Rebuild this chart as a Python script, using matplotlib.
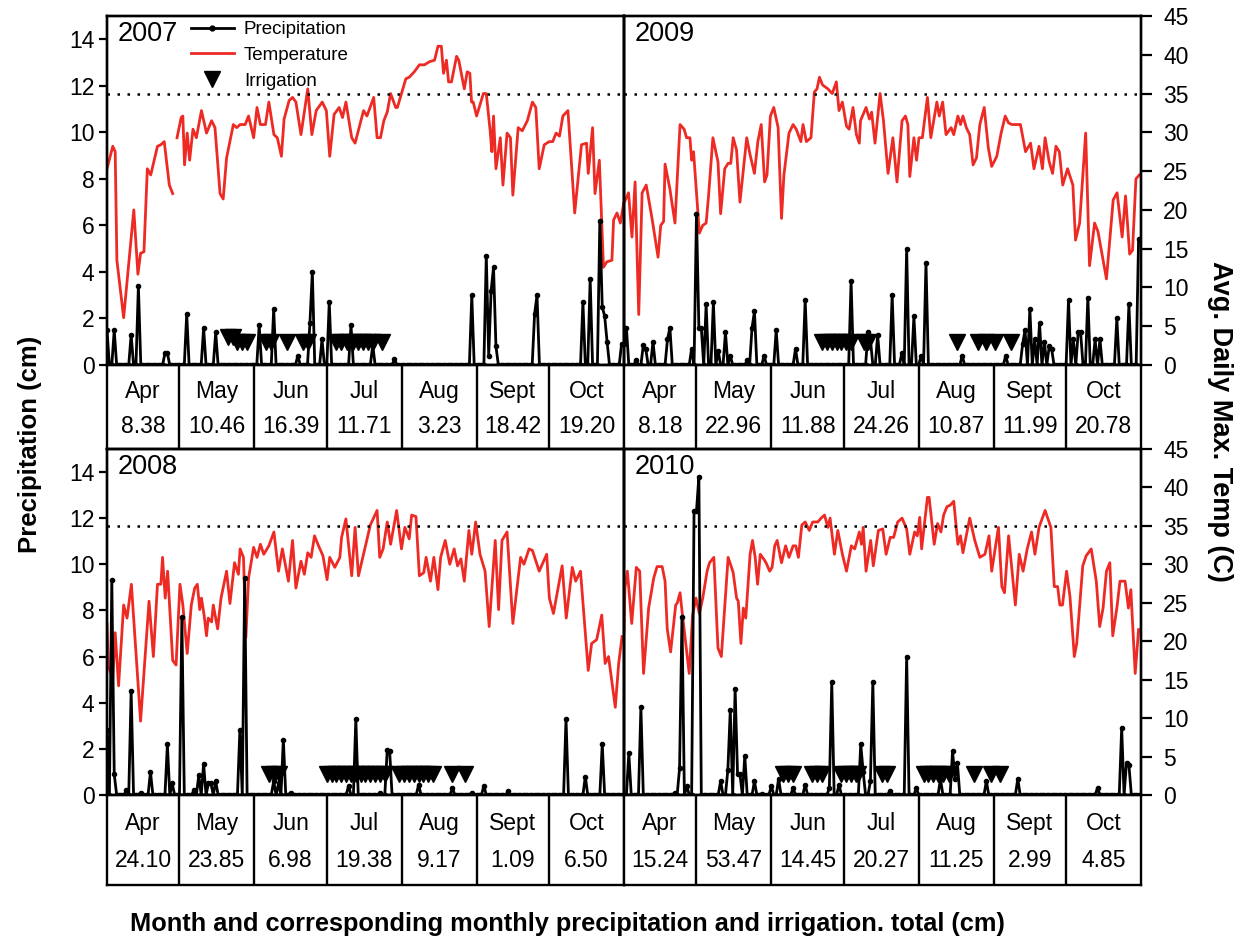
import numpy as np
import matplotlib
matplotlib.use("Agg")
import matplotlib.pyplot as plt
from matplotlib.lines import Line2D

plt.rcParams["font.family"] = ["Liberation Sans", "DejaVu Sans"]

RED = "#ee2a24"
N_DAYS = 214  # Apr 1 .. Oct 31

months = ["Apr", "May", "Jun", "Jul", "Aug", "Sept", "Oct"]
month_days = [30, 31, 30, 31, 31, 30, 31]

totals_2007 = ["8.38", "10.46", "16.39", "11.71", "3.23", "18.42", "19.20"]
totals_2009 = ["8.18", "22.96", "11.88", "24.26", "10.87", "11.99", "20.78"]
totals_2008 = ["24.10", "23.85", "6.98", "19.38", "9.17", "1.09", "6.50"]
totals_2010 = ["15.24", "53.47", "14.45", "20.27", "11.25", "2.99", "4.85"]

# ---- temperature (day since Apr 1, deg C) ----
temp_days_2007 = [0, 2.4, 3.4, 4.1, 6.9, 11.1, 12.8, 13.9, 15.3, 16.7, 18.1, 20.9, 22.3, 23.7, 25.8, 27.2, 28,
                  29, 30.7, 31.4, 32.1, 33.2, 34.2, 35.6, 37, 39.1, 41.2, 43.3, 44.7, 46.8, 48.1, 49.5, 52.3,
                  53.7, 55.1, 57.2, 58.6, 60.7, 62.1, 63.5, 65.6, 67.0, 69.1, 70.5, 72.2, 73.3, 75.4, 76.8,
                  78.2, 80.3, 83.1, 84.8, 86.6, 89.1, 90.8, 92.2, 94.0, 96.1, 97.5, 98.9, 101.3, 102.7, 106.2,
                  107.6, 110.4, 111.8, 113.2, 114.6, 116.0, 117.4, 119.5, 120.2, 123.7, 125.1, 127.2, 129.3,
                  131.4, 133.5, 135.6, 137.0, 138.4, 139.3, 140.5, 141.4, 142.6, 144.7, 145.6, 147.9, 149.1,
                  150.2, 150.9, 151.6, 153.0, 155.8, 157.0, 158.6, 159.3, 160.0, 161.0, 162.8, 163.9, 165.6,
                  167.0, 168.0, 170.2, 171.9, 174.0, 176.1, 177.5, 178.9, 181.0, 183.1, 184.5, 185.9, 187.3,
                  188.7, 190.8, 193.6, 196.4, 198.5, 199.2, 201.0, 202.0, 203.8, 205.5, 206.9, 209.0, 209.7,
                  211.1, 212.5, 213.9]
temp_2007 = [25.3, 28.2, 27.5, 13.5, 6.1, 20.0, 11.7, 14.4, 14.6, 25.3, 24.5, 28.2, 28.4, 28.8, 23.2, 22.1, np.nan,
             29.3, 31.9, 32.1, 25.8, 29.9, 26.4, 30.4, 29.3, 32.8, 29.9, 31.5, 30.6, 22.1, 21.4, 26.7, 31.0,
             30.6, 31.0, 31.0, 32.1, 29.3, 33.2, 31.0, 31.0, 33.9, 29.7, 29.3, 26.9, 31.7, 34.1, 34.5,
             33.9, 29.7, 35.6, 29.7, 32.8, 33.9, 32.8, 26.9, 32.3, 33.2, 31.9, 33.9, 29.3, 28.6, 32.8,
             32.1, 34.5, 29.3, 29.3, 31.5, 32.6, 35.0, 33.2, 33.2, 36.9, 37.1, 37.8, 38.7,
             38.7, 39.1, 39.3, 41.1, 41.1, 37.6, 39.3, 36.5, 36.5, 39.8, 39.3, 35.6, 37.8,
             37.6, 33.9, 33.9, 32.1, 35.0, 35.0, 30.2, 27.5, 32.1, 25.3, 29.3, 23.2, 29.9,
             29.3, 21.9, 30.6, 30.2, 31.5, 33.9, 33.2, 25.3, 28.4, 28.8, 28.8, 29.9, 29.5,
             32.1, 32.8, 19.6, 28.4, 28.6, 24.7, 30.6, 22.1, 26.4, 12.6, 13.3, 13.5, 18.7,
             19.6, 18.3, 20.9]

temp_days_2009 = [0, 1.9, 3.3, 4.6, 6.1, 7.5, 9.2, 11.6, 14.1, 15.2, 16.4, 17.0, 19.0, 21.1, 23.2, 24.9, 25.9,
                  27.3, 28.0, 28.8, 31.2, 32.6, 34.0, 35.0, 36.8, 38.9, 40.0, 41.7, 43.1, 44.2, 45.2, 46.6,
                  48.0, 50.8, 52.2, 54.0, 55.4, 56.8, 58.2, 59.2, 60.6, 62.0, 63.8, 65.2, 66.2, 68.3, 70.0,
                  71.3, 73.2, 74.1, 75.5, 77.4, 78.8, 79.9, 80.9, 82.2, 84.4, 86.2, 87.9, 89.0, 90.4, 92.1,
                  93.2, 94.8, 96.2, 97.4, 97.9, 100.2, 101.6, 102.5, 103.9, 106.0, 107.4, 109.3, 111.3,
                  113.0, 115.1, 116.5, 117.5, 118.3, 120.0, 121.1, 122.1, 123.5, 125.6, 127.0, 129.5, 130.5,
                  131.9, 133.3, 135.4, 136.5, 138.2, 139.3, 140.3, 141.7, 143.1, 144.5, 145.9, 147.3, 149.1,
                  150.8, 152.2, 154.3, 156.1, 157.8, 159.2, 160.6, 164.1, 166.2, 168.3, 169.7, 171.8, 173.2,
                  174.3, 176.0, 177.4, 178.8, 180.2, 181.6, 183.6, 185.8, 186.9, 188.6, 191.1, 192.7, 194.8,
                  196.2, 199.7, 202.5, 204.1, 206.2, 207.6, 209.3, 210.5, 211.9, 213.3]
temp_2009 = [20.9, 22.2, 16.5, 23.6, 6.5, 22.2, 23.2, 18.9, 13.9, 18.0, 18.5, 25.9, 22.7, 18.3, 31.0, 30.4, 29.3,
             29.3, 26.4, 27.5, 17.0, 18.0, 18.3, 21.8, 29.3, 26.2, 19.5, 25.3, 26.0, 26.0, 29.3, 27.7,
             21.0, 29.3, 27.1, 24.7, 28.8, 31.0, 23.6, 24.5, 32.1, 33.2, 30.6, 18.9, 24.5, 29.9, 31.0,
             30.4, 28.8, 31.0, 28.8, 29.3, 35.2, 35.6, 37.1, 36.1, 35.6, 35.0, 36.5, 32.8, 33.9, 30.8,
             30.4, 33.2, 29.7, 28.6, 31.5, 33.2, 31.7, 32.6, 28.6, 35.0, 31.5, 24.7, 29.3,
             23.6, 31.5, 32.1, 31.0, 24.3, 29.3, 26.4, 29.3, 29.3, 34.5, 29.3, 33.9, 32.1,
             33.9, 29.7, 30.6, 29.7, 32.1, 31.0, 32.1, 30.6, 29.7, 25.8, 26.7, 31.0, 33.2,
             28.0, 25.6, 26.9, 29.9, 32.1, 31.2, 31.0, 31.0, 27.5, 28.6, 25.3, 28.2, 25.3,
             29.3, 26.2, 24.7, 28.2, 27.5, 23.2, 25.3, 23.2, 16.1, 18.3, 29.9, 12.8, 18.3,
             17.2, 11.1, 21.3, 22.2, 16.5, 21.8, 14.3, 14.8, 24.0, 24.5]

temp_days_2008 = [0, 0.6, 2.4, 3.4, 4.8, 6.9, 8.3, 10.1, 13.9, 17.4, 19.2, 20.9, 22.3, 23.0, 24.1, 25.1, 27.2,
                  28.6, 30.2, 31.4, 33.2, 34.9, 36.3, 37.4, 38.4, 39.1, 40.2, 41.2, 41.9, 43.3, 44.0, 45.8,
                  47.2, 49.5, 50.9, 52.8, 54.4, 55.1, 56.5, 57.5, 58.6, 60.7, 62.1, 63.5, 64.9, 67.0, 69.1,
                  71.0, 72.6, 75.1, 76.8, 78.2, 80.3, 81.7, 83.1, 84.5, 85.9, 87.3, 89.4, 91.1, 92.2, 94.3,
                  96.4, 97.1, 98.9, 101.3, 102.7, 104.1, 109.0, 111.8, 112.9, 114.3, 116.0, 117.4, 119.9,
                  121.9, 123.3, 125.1, 126.1, 127.9, 129.3, 131.1, 132.1, 133.9, 135.3, 137.0, 138.1, 140.0,
                  141.9, 143.7, 145.1, 146.5, 147.9, 149.8, 151.0, 152.6, 154.4, 156.5, 158.2, 160.7, 162.1,
                  163.5, 165.6, 168.0, 171.2, 172.6, 174.7, 176.1, 178.9, 182.0, 183.1, 184.8, 188.4, 190.1,
                  192.6, 194.0, 196.0, 199.2, 200.6, 202.7, 204.8, 206.2, 207.6, 210.4, 211.8, 213.2]
temp_2008 = [22.3, 16.7, 15.1, 21.1, 14.2, 24.7, 23.0, 27.4, 9.6, 25.2, 18.0, 27.4, 27.4, 30.9, 25.6, 29.1, 17.5,
             16.9, 27.4, 24.7, 18.4, 24.7, 26.9, 27.4, 24.1, 25.6, 23.4, 20.7, 23.0, 22.5, 24.7, 21.6,
             25.6, 29.1, 24.9, 30.2, 28.7, 32.0, 30.9, 20.5, 28.2, 32.2, 30.9, 32.6, 31.3, 32.4, 34.2,
             29.1, 32.0, 27.8, 33.1, 26.9, 30.4, 28.7, 31.5, 30.9, 33.7, 32.6, 31.1, 28.0, 30.9, 29.6,
             30.9, 33.5, 35.9, 28.5, 34.8, 28.5, 35.1, 37.0, 30.9, 32.0, 35.5, 32.6, 37.0,
             32.0, 34.8, 33.3, 36.4, 36.2, 28.5, 28.9, 30.9, 27.8, 30.9, 26.7, 30.9, 33.1,
             30.0, 32.0, 29.8, 30.7, 27.8, 34.4, 31.3, 35.5, 31.3, 29.1, 21.9, 33.1, 24.1,
             33.1, 34.2, 22.3, 30.9, 30.0, 32.0, 31.8, 29.1, 31.3, 25.6, 23.6, 29.8, 23.0,
             29.6, 27.8, 29.1, 16.2, 19.7, 20.2, 23.4, 17.1, 18.0, 11.4, 17.1, 20.6]

temp_days_2010 = [0, 0.4, 1.4, 3.2, 5.1, 6.5, 8.1, 10.2, 12.3, 13.7, 15.8, 17.0, 17.9, 19.3, 21.4, 22.1, 23.2,
                  24.2, 27.0, 28.4, 29.8, 31.2, 32.6, 34.4, 35.4, 37.2, 38.9, 40.3, 43.1, 44.5, 45.2, 46.6,
                  47.3, 48.4, 49.4, 50.4, 52.2, 53.2, 54.3, 55.3, 56.4, 57.8, 58.8, 60.3, 61.3, 62.4, 63.4,
                  65.2, 66.9, 68.3, 70.0, 71.1, 72.2, 73.6, 75.0, 76.7, 78.1, 80.2, 81.6, 83.0, 84.4, 85.3,
                  87.1, 88.5, 90.4, 92.1, 94.1, 95.5, 97.4, 98.3, 99.0, 100.2, 102.1, 103.2, 105.3, 107.1,
                  108.5, 110.2, 111.6, 113.3, 115.1, 117.0, 118.3, 120.3, 121.4, 122.4, 123.2, 125.6, 126.3,
                  128.4, 129.8, 131.2, 132.3, 133.7, 135.1, 136.5, 138.2, 139.3, 140.3, 143.1, 145.2, 147.3,
                  149.4, 151.1, 152.2, 153.9, 155.0, 156.4, 157.5, 159.2, 162.0, 163.6, 165.2, 166.9, 168.7,
                  170.1, 171.8, 174.3, 176.7, 178.1, 179.5, 180.4, 181.5, 183.2, 184.6, 185.8, 186.4, 187.4,
                  189.9, 191.3, 193.4, 195.5, 196.9, 198.3, 199.7, 201.1, 202.3, 204.0, 205.3, 207.4, 208.8,
                  209.8, 211.6, 213.0]
temp_2010 = [21.2, 26.9, 29.1, 22.3, 29.6, 29.1, 15.8, 24.3, 28.2, 29.7, 29.7, 27.8, 21.6, 18.6, 24.7, 25.0, 26.3,
             23.4, 15.8, 23.4, 25.6, 23.6, 25.6, 29.1, 30.2, 30.9, 19.1, 18.0, 30.9, 29.6, 28.9, 25.6,
             25.2, 19.7, 24.3, 23.0, 31.3, 33.1, 30.9, 27.4, 31.3, 30.7, 30.2, 29.1, 29.6, 32.4, 33.1,
             30.2, 32.4, 30.9, 32.4, 32.4, 30.9, 35.1, 35.5, 34.4, 35.5, 35.5, 36.0, 36.4, 34.8, 36.0,
             31.3, 34.4, 31.3, 29.1, 32.4, 32.0, 34.2, 32.6, 34.8, 29.1, 33.1, 29.8, 34.4, 34.6,
             31.3, 33.5, 33.5, 35.5, 36.0, 34.6, 31.3, 34.2, 33.7, 36.1, 32.0, 38.7, 38.7,
             32.6, 35.3, 34.2, 36.4, 37.5, 37.7, 38.2, 32.6, 33.7, 31.5, 36.0, 33.1, 30.9,
             31.3, 33.7, 29.1, 32.6, 34.8, 27.1, 26.3, 33.7, 24.7, 31.3, 29.1, 32.0, 34.2,
             31.3, 34.8, 37.0, 34.8, 27.1, 27.1, 24.7, 24.7, 29.1, 25.8, 20.7, 18.0, 19.7,
             29.8, 31.1, 32.0, 27.8, 21.9, 24.3, 29.1, 30.2, 20.7, 24.3, 27.8, 27.8, 24.3,
             26.7, 15.8, 21.5]

# ---- precipitation events (day since Apr 1, cm); other days are 0 ----
rain_days_2007 = [0, 3, 10, 13, 24, 25, 33, 40, 45, 63, 69, 79, 84, 85, 89, 92, 101, 110, 119, 151, 157,
                  158, 159, 160, 161, 177, 178, 197, 200, 204, 205, 206, 207, 213]
rain_2007 = [1.5, 1.5, 1.3, 3.4, 0.5, 0.5, 2.2, 1.6, 1.4, 1.7, 2.4, 0.4, 1.8, 4.0, 1.1, 2.7, 1.7, 0.85, 0.25,
             3.0, 4.7, 0.4, 3.2, 4.2, 0.8, 2.2, 3.0, 2.7, 3.7, 6.2, 2.5, 2.1, 1.0, 0.9]

rain_days_2009 = [0, 1, 5, 8, 9, 12, 18, 19, 28, 30, 31, 32, 34, 37, 39, 42, 44, 51, 53, 54, 58, 63, 71, 75,
                  94, 101, 102, 105, 111, 115, 117, 120, 123, 125, 140, 158, 165, 166, 168, 170, 172, 174,
                  176, 177, 184, 186, 188, 189, 192, 195, 197, 204, 209, 213]
rain_2009 = [0.9, 1.6, 0.2, 0.85, 0.7, 1.0, 1.1, 1.6, 0.7, 6.5, 1.6, 1.6, 2.6, 2.7, 0.6, 1.4, 0.4, 0.2, 1.6,
             2.3, 0.4, 1.5, 0.7, 2.8, 3.6, 1.4, 1.1, 1.3, 3.0, 0.5, 5.0, 2.1, 0.4, 4.4, 0.4, 0.4, 0.9, 1.5,
             2.4, 1.1, 1.8, 1.0, 0.8, 0.7, 2.8, 1.1, 1.4, 1.4, 2.9, 1.1, 1.1, 2.0, 2.6, 5.4]

rain_days_2008 = [0, 2, 3, 8, 10, 14, 18, 25, 27, 31, 36, 38, 40, 42, 43, 45, 55, 57, 69, 71, 73, 76, 100,
                  103, 113, 116, 117, 129, 143, 151, 156, 166, 190, 198, 205]
rain_2008 = [2.8, 9.3, 0.9, 0.2, 4.5, 0.1, 1.0, 2.2, 0.5, 7.7, 0.2, 0.85, 1.35, 0.5, 0.5, 0.6, 2.8, 9.4, 0.6,
             0.5, 2.4, 0.1, 0.4, 3.3, 0.1, 1.95, 1.9, 0.45, 0.3, 0.1, 0.4, 0.15, 3.3, 0.8, 2.2]

rain_days_2010 = [2, 7, 21, 23, 24, 26, 29, 30, 31, 40, 43, 44, 46, 47, 48, 50, 54, 57, 61, 64, 70, 75, 85,
                  86, 89, 98, 99, 102, 103, 110, 117, 121, 131, 136, 137, 138, 150, 163, 196, 206, 208, 209]
rain_2010 = [1.8, 3.8, 0.1, 1.15, 7.7, 0.4, 12.3, 12.3, 13.8, 0.6, 1.1, 3.7, 4.6, 0.9, 0.9, 1.7, 0.6, 0.05,
             0.4, 0.7, 0.3, 0.45, 0.3, 4.9, 0.45, 2.2, 1.0, 0.6, 4.9, 0.15, 6.0, 0.3, 0.7, 1.9, 0.7, 1.4,
             0.6, 0.7, 0.3, 2.9, 1.4, 1.3]

# ---- irrigation events (day since Apr 1, plotted at cm) ----
irr_days_2007 = [50, 52, 54, 56, 58, 66, 68, 74.5, 81, 83, 95, 97, 99.5, 102, 104, 106, 108, 110, 114]
irr_2007 = [1.2, 1.2, 1.0, 1.0, 1.0, 1.0, 1.0, 1.0, 1.0, 1.0, 1.0, 1.0, 1.0, 1.0, 1.0, 1.0, 1.0, 1.0, 1.0]

irr_days_2009 = [82, 84, 86, 88, 90, 92, 94, 99.5, 101, 137.8, 146.5, 150, 153.5, 160]
irr_2009 = [1.0] * 14

irr_days_2008 = [67, 69, 71, 91, 93, 95, 97, 99, 101, 103, 105, 107, 109, 111, 113, 115,
                 121, 123, 125, 127, 129, 131, 133, 135, 143, 148]
irr_2008 = [0.9] * 26

irr_days_2010 = [66, 68, 70, 78, 80, 82, 90, 92, 94, 96, 97, 107, 109, 124, 126, 128, 130, 132, 134.5,
                 145, 152, 155.8]
irr_2010 = [0.9] * 22


fig = plt.figure(figsize=(12.44, 9.39), dpi=100)

x_left, x_right, w = 0.0860, 0.5016, 0.4156
rows = {"top": (0.6113, 0.3717, 0.5218, 0.0895),
        "bottom": (0.1534, 0.3685, 0.0575, 0.0959)}


def draw_panel(col, row, year, t_days, t_vals, r_days, r_vals, i_days, i_vals, totals, legend=False):
    x0 = x_left if col == 0 else x_right
    pb, ph, tb, th = rows[row]
    ax = fig.add_axes([x0, pb, w, ph])
    axt = ax.twinx()
    ax.set_zorder(axt.get_zorder() + 1)
    ax.patch.set_visible(False)

    axt.plot(t_days, t_vals, color=RED, lw=2.0)
    axt.axhline(35, color="black", ls=(0, (1, 3.0)), lw=1.8)

    rain = np.zeros(N_DAYS)
    rain[r_days] = r_vals
    ax.plot(np.arange(N_DAYS), rain, color="black", lw=2.0, marker="o", ms=3)
    ax.plot(i_days, i_vals, ls="none", marker="v", color="black", ms=11)

    ax.set_xlim(0, N_DAYS)
    ax.set_ylim(0, 15)
    axt.set_ylim(0, 45)
    ax.set_yticks(range(0, 15, 2))
    axt.set_yticks(range(0, 46, 5))
    ax.set_xticks([])
    for a in (ax, axt):
        for s in a.spines.values():
            s.set_linewidth(1.7)
    if col == 0:
        ax.tick_params(axis="y", direction="out", length=6, width=1.6, labelsize=16.5, pad=3)
        axt.tick_params(axis="y", right=False, labelright=False)
    else:
        ax.tick_params(axis="y", left=False, labelleft=False)
        axt.tick_params(axis="y", direction="out", length=8, width=1.6, labelsize=16.5, pad=8)

    ax.text(0.02, 0.985, year, transform=ax.transAxes, fontsize=19.5, va="top", ha="left")

    if legend:
        handles = [Line2D([], [], color="black", lw=2.0, marker="o", ms=3.5),
                   Line2D([], [], color=RED, lw=2.0),
                   Line2D([], [], ls="none", marker="v", color="black", ms=11)]
        ax.legend(handles, ["Precipitation", "Temperature", "Irrigation"], loc="upper left",
                  bbox_to_anchor=(0.158, 0.99), frameon=False, fontsize=13.5, handlelength=2.3,
                  handletextpad=0.55, labelspacing=0.45, borderaxespad=0, borderpad=0.1, numpoints=1)

    # month table below the panel
    tab = fig.add_axes([x0, tb, w, th])
    tab.set_xlim(0, N_DAYS)
    tab.set_ylim(0, 1)
    tab.set_xticks([])
    tab.set_yticks([])
    for s in tab.spines.values():
        s.set_linewidth(1.7)
    edges = np.concatenate([[0], np.cumsum(month_days)])
    for e in edges[1:-1]:
        tab.axvline(e, color="black", lw=1.7)
    for i, (m, v) in enumerate(zip(months, totals)):
        xc = (edges[i] + edges[i + 1]) / 2
        tab.text(xc, 0.68, m, ha="center", va="center", fontsize=16.5)
        tab.text(xc, 0.27, v, ha="center", va="center", fontsize=16.5)


draw_panel(0, "top", "2007", temp_days_2007, temp_2007, rain_days_2007, rain_2007,
           irr_days_2007, irr_2007, totals_2007, legend=True)
draw_panel(1, "top", "2009", temp_days_2009, temp_2009, rain_days_2009, rain_2009,
           irr_days_2009, irr_2009, totals_2009)
draw_panel(0, "bottom", "2008", temp_days_2008, temp_2008, rain_days_2008, rain_2008,
           irr_days_2008, irr_2008, totals_2008)
draw_panel(1, "bottom", "2010", temp_days_2010, temp_2010, rain_days_2010, rain_2010,
           irr_days_2010, irr_2010, totals_2010)

fig.text(0.024, 0.527, "Precipitation (cm)", rotation=90, ha="center", va="center",
         fontsize=18.5, fontweight="bold")
fig.text(0.981, 0.551, "Avg. Daily Max. Temp (C)", rotation=270, ha="center", va="center",
         fontsize=19.5, fontweight="bold")
fig.text(0.456, 0.016, "Month and corresponding monthly precipitation and irrigation. total (cm)",
         ha="center", va="center", fontsize=18.3, fontweight="bold")

fig.savefig("out.png", dpi=100)
